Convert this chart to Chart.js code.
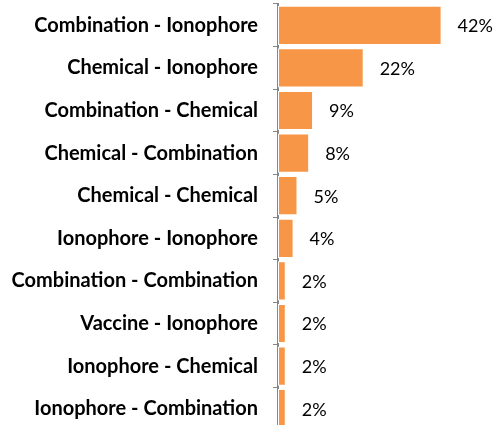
<!DOCTYPE html>
<html>
<head>
<meta charset="utf-8">
<script src="https://cdn.jsdelivr.net/npm/chart.js@4.4.1/dist/chart.umd.min.js"></script>
<style>
  html, body { margin: 0; padding: 0; background: #fff; overflow: hidden; }
  #wrap { width: 504px; height: 434px; position: relative; }
</style>
</head>
<body>
<div id="wrap"><canvas id="myChart"></canvas></div>
<script>
// treatment pairs, largest share first
const categories = [
    'Combination - Ionophore',
    'Chemical - Ionophore',
    'Combination - Chemical',
    'Chemical - Combination',
    'Chemical - Chemical',
    'Ionophore - Ionophore',
    'Combination - Combination',
    'Vaccine - Ionophore',
    'Ionophore - Chemical',
    'Ionophore - Combination'
];
const shares = [42, 22, 9, 8, 5, 4, 2, 2, 2, 2];

// writes "n%" just past the end of each bar
const valueLabels = {
    id: 'valueLabels',
    afterDatasetsDraw(chart) {
        const ctx = chart.ctx;
        const meta = chart.getDatasetMeta(0);
        ctx.save();
        ctx.font = '18px Lato';
        ctx.fillStyle = '#000';
        ctx.textAlign = 'left';
        ctx.textBaseline = 'middle';
        meta.data.forEach(function(bar, i) {
            ctx.fillText(shares[i] + '%', bar.x + 16, bar.y + 1);
        });
        ctx.restore();
    }
};

new Chart(document.getElementById('myChart'), {
    type: 'bar',
    data: {
        labels: categories,
        datasets: [{
            data: shares,
            backgroundColor: '#F79646',
            borderColor: '#ffffff',
            borderWidth: 1,
            borderSkipped: false,
            categoryPercentage: 1,
            barPercentage: 0.92
        }]
    },
    plugins: [valueLabels],
    options: {
        indexAxis: 'y',
        responsive: true,
        maintainAspectRatio: false,
        animation: false,
        layout: { padding: { top: 4, bottom: 4, right: 4, left: 0 } },
        plugins: {
            legend: { display: false },
            tooltip: { enabled: false }
        },
        scales: {
            x: {
                display: false,
                min: 0,
                max: 57
            },
            y: {
                offset: true,
                // keep the long labels from being squeezed, and drop the
                // extra top/bottom padding the labels would add
                afterFit(scale) {
                    scale.width = 278;
                    scale.paddingTop = 0;
                    scale.paddingBottom = 0;
                },
                grid: {
                    offset: true,
                    drawOnChartArea: false,
                    drawTicks: true,
                    tickLength: 5,
                    color: '#868686',
                    lineWidth: 1
                },
                border: { color: '#868686', width: 2 },
                ticks: {
                    color: '#000',
                    padding: 15,
                    autoSkip: false,
                    font: { family: 'Lato', size: 20, weight: 'bold' }
                }
            }
        }
    }
});
</script>
</body>
</html>
